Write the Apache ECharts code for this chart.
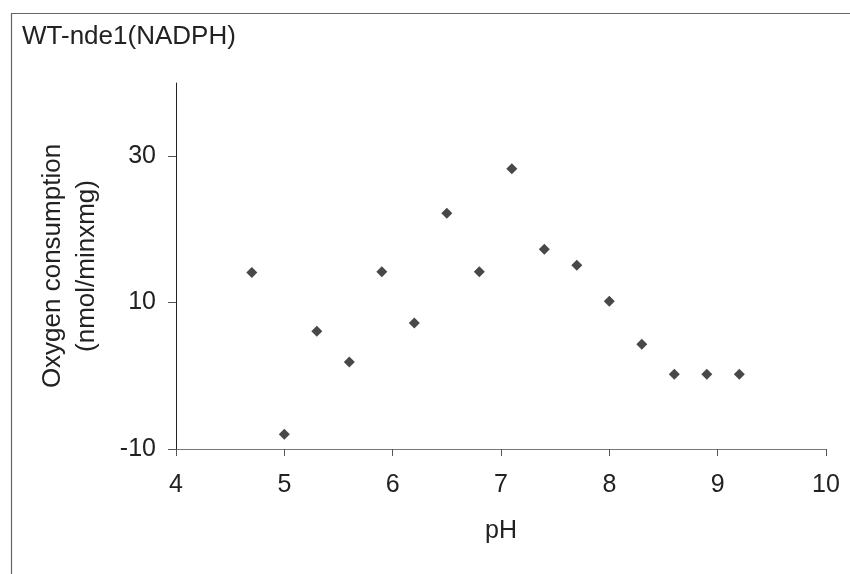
<!DOCTYPE html>
<html>
<head>
<meta charset="utf-8">
<script src="https://cdn.jsdelivr.net/npm/echarts@6/dist/echarts.min.js"></script>
<style>
html,body{margin:0;padding:0;background:#fff;}
#main{width:850px;height:574px;}
</style>
</head>
<body>
<div id="main"></div>
<script>
// Data
var titleText = 'WT-nde1(NADPH)';
var xAxisName = 'pH';
var yAxisName = 'Oxygen consumption\n(nmol/minxmg)';
var pH = [4.7, 5.0, 5.3, 5.6, 5.9, 6.2, 6.5, 6.8, 7.1, 7.4, 7.7, 8.0, 8.3, 8.6, 8.9, 9.2];
var oxygen = [14.1, -8.0, 6.1, 1.9, 14.2, 7.2, 22.2, 14.2, 28.3, 17.3, 15.1, 10.2, 4.3, 0.2, 0.2, 0.2];
var yTicks = [-10, 10, 30];
var xMin = 4, xMax = 10, yMin = -10, yMax = 40;

var points = pH.map(function (x, i) { return [x, oxygen[i]]; });

var FONT = '"Liberation Sans", Arial, Helvetica, sans-serif';
var chart = echarts.init(document.getElementById('main'), null, { renderer: 'canvas' });
chart.setOption({
  backgroundColor: '#ffffff',
  animation: false,
  title: {
    text: titleText,
    left: 17,
    top: 19,
    textStyle: { fontFamily: FONT, fontSize: 26, fontWeight: 'normal', color: '#222' }
  },
  graphic: [{
    type: 'rect',
    silent: true,
    shape: { x: 11.5, y: 13.5, width: 1000, height: 1000 },
    style: { fill: 'none', stroke: '#666', lineWidth: 1.2 }
  }],
  grid: { left: 176, right: 24, top: 83, bottom: 125, containLabel: false },
  xAxis: {
    type: 'value',
    min: xMin,
    max: xMax,
    interval: 1,
    name: xAxisName,
    nameLocation: 'middle',
    nameGap: 70,
    nameTextStyle: { fontFamily: FONT, fontSize: 25, color: '#222' },
    axisLine: { onZero: false, lineStyle: { color: '#777', width: 1 } },
    axisTick: { show: true, inside: false, length: 7, lineStyle: { color: '#555' } },
    axisLabel: { margin: 24, fontFamily: FONT, fontSize: 25, color: '#222' },
    splitLine: { show: false }
  },
  yAxis: {
    type: 'value',
    min: yMin,
    max: yMax,
    name: yAxisName,
    nameLocation: 'middle',
    nameGap: 72,
    nameRotate: 90,
    nameTextStyle: { fontFamily: FONT, fontSize: 26, color: '#222', lineHeight: 34, align: 'center' },
    axisLine: { onZero: false, lineStyle: { color: '#222', width: 1 } },
    axisTick: { show: true, inside: false, length: 8, customValues: yTicks, lineStyle: { color: '#555' } },
    axisLabel: { margin: 20, fontFamily: FONT, fontSize: 25, color: '#222', customValues: yTicks },
    splitLine: { show: false }
  },
  series: [{
    type: 'scatter',
    data: points,
    symbol: 'diamond',
    symbolSize: 11,
    itemStyle: { color: '#1a1a1a' }
  }]
});
</script>
</body>
</html>
